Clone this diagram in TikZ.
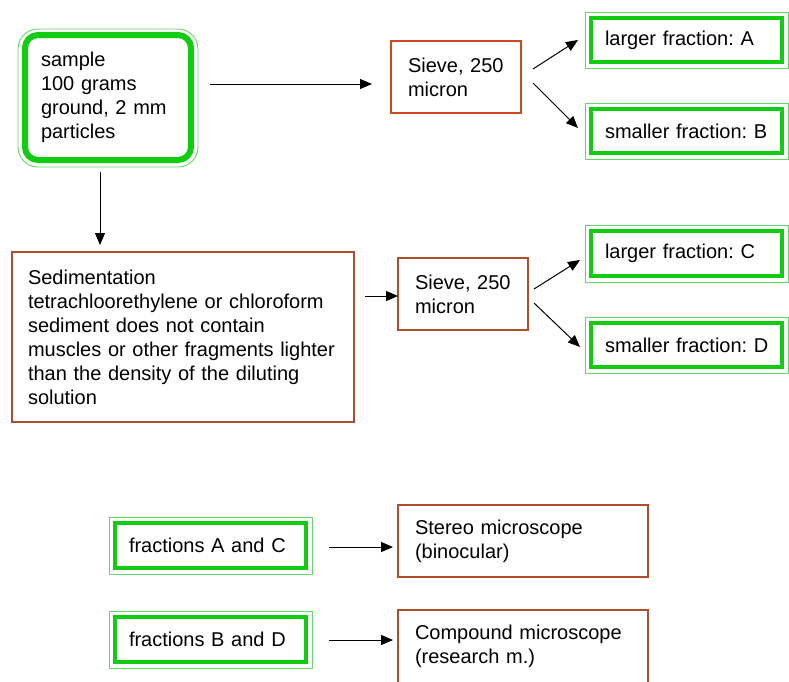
\documentclass[tikz,border=0pt]{standalone}
\usepackage{fontspec}
\setmainfont{Liberation Sans}
\usetikzlibrary{arrows.meta,calc}
\definecolor{gband}{HTML}{11CC11}
\definecolor{gthin}{HTML}{66D866}
\definecolor{redA}{HTML}{D04A20}
\definecolor{redB}{HTML}{B04E2C}
\tikzset{
  box/.style={draw, outer sep=0pt, align=left, anchor=center, font=\fontsize{20}{24}\selectfont\frenchspacing},
  redbox/.style={box, draw=redB, line width=2.4pt, inner xsep=17pt, inner ysep=0pt},
  greenbox/.style={box, draw=gband, line width=4.5pt, inner xsep=14pt, inner ysep=0pt},
  thinline/.style={draw=gthin, line width=0.9pt},
  arr/.style={draw=black, line width=1pt, -{Triangle[length=12pt,width=10pt]}}
}
\begin{document}
\begin{tikzpicture}[x=1pt,y=-1pt]
\useasboundingbox[fill=white] (0,0) rectangle (789,681);

% sample
\node[greenbox, line width=6pt, rounded corners=13pt, minimum width=166pt, minimum height=125pt, text width=134pt, inner xsep=16pt] (sample) at (108,97.5)
  {sample\\100 grams\\ground, 2 mm\\particles};
\draw[thinline, rounded corners=20pt] ($(sample.north west)+(-7,-6)$) rectangle ($(sample.south east)+(7,7)$);

% sieves
\node[redbox, draw=redA, minimum width=130pt, minimum height=72pt, text width=96pt] (sieve1) at (456,77) {Sieve, 250\\micron};
\node[redbox, minimum width=130pt, minimum height=72pt, text width=96pt] (sieve2) at (463,294) {Sieve, 250\\micron};

% sedimentation
\node[redbox, minimum width=342pt, minimum height=170pt, text width=310pt, inner xsep=16pt] (sed) at (183,337)
  {Sedimentation\\tetrachloorethylene or chloroform\\sediment does not contain\\muscles or other fragments lighter\\than the density of the diluting\\solution};

% fractions
\node[greenbox, minimum width=191pt, minimum height=44pt, text width=163pt] (A) at (686.5,40) {\mbox{larger fraction: A}};
\node[greenbox, minimum width=191pt, minimum height=44pt, text width=163pt] (B) at (686.5,131) {\mbox{smaller fraction: B}};
\node[greenbox, minimum width=191pt, minimum height=45pt, text width=163pt] (C) at (686.5,253.5) {\mbox{larger fraction: C}};
\node[greenbox, minimum width=191pt, minimum height=44pt, text width=163pt] (D) at (686.5,345) {\mbox{smaller fraction: D}};
\foreach \n in {A,B,C,D}{
  \draw[thinline] ($(\n.north west)+(-6,-6)$) rectangle ($(\n.south east)+(6,6)$);
}

% bottom part
\node[greenbox, minimum width=191pt, minimum height=45pt, text width=163pt] (AC) at (210.5,545.5) {fractions A and C};
\node[greenbox, minimum width=191pt, minimum height=45pt, text width=163pt] (BD) at (210.5,639.5) {fractions B and D};
\foreach \n in {AC,BD}{
  \draw[thinline] ($(\n.north west)+(-6,-6)$) rectangle ($(\n.south east)+(6,6)$);
}
\node[redbox, minimum width=250pt, minimum height=72pt, text width=216pt] (stereo) at (523,541) {Stereo microscope\\(binocular)};
\node[redbox, minimum width=250pt, minimum height=73pt, text width=216pt] (compound) at (523,646.5) {Compound microscope\\(research m.)};

% connectors
\draw[arr] ($(sample.east)+(19,-13.5)$) -- ($(sieve1.west)+(-19,7)$);
\draw[arr] ($(sample.south)+(-8,12)$) -- ($(sed.north)+(-83,-7)$);
\draw[arr] ($(sed.east)+(11,-41)$) -- ($(sieve2.west)+(0,2)$);
\draw[arr] ($(sieve1.east)+(12,-8)$) -- ($(A.west)+(-13,0)$);
\draw[arr] ($(sieve1.east)+(12,6)$) -- ($(B.west)+(-13,-3)$);
\draw[arr] ($(sieve2.east)+(6,-5)$) -- ($(C.west)+(-11,6.5)$);
\draw[arr] ($(sieve2.east)+(6,9)$) -- ($(D.west)+(-11,2)$);
\draw[arr] ($(AC.east)+(23,1.5)$) -- ($(stereo.west)+(-5,6)$);
\draw[arr] ($(BD.east)+(23,0.5)$) -- ($(compound.west)+(-5,-6.5)$);
\end{tikzpicture}
\end{document}
